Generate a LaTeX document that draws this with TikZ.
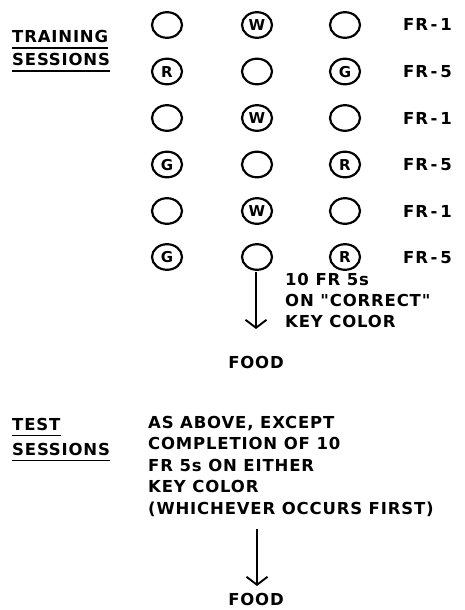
\documentclass[tikz,border=0pt]{standalone}
\usepackage{fontspec}
\setmainfont{DejaVu Sans}
\newfontfamily\lettering{DejaVu Sans}[LetterSpace=5]
\usetikzlibrary{arrows.meta}

\tikzset{
  lbl/.style={inner sep=0pt, anchor=base west, font=\lettering\fontsize{16.5}{19}\selectfont\bfseries},
  ctr/.style={inner sep=0pt, anchor=base, font=\lettering\fontsize{16.5}{19}\selectfont\bfseries},
  uline/.style={line width=1.8pt},
  keyring/.style={line width=2.2pt},
  flow/.style={line width=1.9pt, -{Straight Barb[length=8pt,width=21pt,line width=1.9pt]}},
  keyletter/.style={inner sep=0pt, font=\fontsize{15}{15}\selectfont\bfseries}
}

% one response key: ring plus its colour letter (W, R, G) or nothing
\newcommand{\keyat}[4]{%
  \draw[keyring] (#2,#3) ellipse [x radius=15, y radius=12.8];
  \node[keyletter] (#1) at (#2,#3+0.3) {#4};
}

\begin{document}
\begin{tikzpicture}[x=1pt,y=-1pt]
\useasboundingbox (0,0) rectangle (465,610);

% ---- training sessions heading
\node[lbl] (trA) at (12,43) {TRAINING};
\node[lbl] (trB) at (12,66) {SESSIONS};
\draw[uline] (12,48) -- (trA.base east |- 0,48);
\draw[uline] (12,71) -- (trB.base east |- 0,71);

% ---- key displays, three keys per trial type
\keyat{k11}{167}{25}{}
\keyat{k12}{257}{25}{W}
\keyat{k13}{345}{25}{}
\keyat{k21}{167}{71.5}{R}
\keyat{k22}{257}{71.5}{}
\keyat{k23}{345}{71.5}{G}
\keyat{k31}{167}{118}{}
\keyat{k32}{257}{118}{W}
\keyat{k33}{345}{118}{}
\keyat{k41}{167}{164.5}{G}
\keyat{k42}{257}{164.5}{}
\keyat{k43}{345}{164.5}{R}
\keyat{k51}{167}{211}{}
\keyat{k52}{257}{211}{W}
\keyat{k53}{345}{211}{}
\keyat{k61}{167}{257}{G}
\keyat{k62}{257}{257}{}
\keyat{k63}{345}{257}{R}

% ---- schedule labels
\node[lbl] (fr1) at (403,31) {FR\,-\,1};
\node[lbl] (fr2) at (403,77.5) {FR\,-\,5};
\node[lbl] (fr3) at (403,124) {FR\,-\,1};
\node[lbl] (fr4) at (403,170.5) {FR\,-\,5};
\node[lbl] (fr5) at (403,217) {FR\,-\,1};
\node[lbl] (fr6) at (403,263) {FR\,-\,5};

% ---- training contingency
\coordinate (a1s) at (256,272);
\coordinate (a1e) at (256,329);
\draw[flow] (a1s) -- (a1e);
\node[lbl] (c1) at (285,285.5) {10 FR 5s};
\node[lbl] (c2) at (285,306) {ON {\char34}CORRECT{\char34}};
\node[lbl] (c3) at (285,327) {KEY COLOR};
\node[ctr] (food1) at (256,368) {FOOD};

% ---- test sessions heading
\node[lbl] (teA) at (12,430) {TEST};
\node[lbl] (teB) at (12,455) {SESSIONS};
\draw[uline] (12,435.5) -- (teA.base east |- 0,435.5);
\draw[uline] (12,460.5) -- (teB.base east |- 0,460.5);

% ---- test contingency
\node[lbl] (t1) at (148,428) {AS ABOVE, EXCEPT};
\node[lbl] (t2) at (148,449.5) {COMPLETION OF 10};
\node[lbl] (t3) at (148,471) {FR 5s ON EITHER};
\node[lbl] (t4) at (148,492.5) {KEY COLOR};
\node[lbl] (t5) at (148,514) {(WHICHEVER OCCURS FIRST)};
\coordinate (a2s) at (257,529);
\coordinate (a2e) at (257,586);
\draw[flow] (a2s) -- (a2e);
\node[ctr] (food2) at (256,605.5) {FOOD};
\end{tikzpicture}
\end{document}
